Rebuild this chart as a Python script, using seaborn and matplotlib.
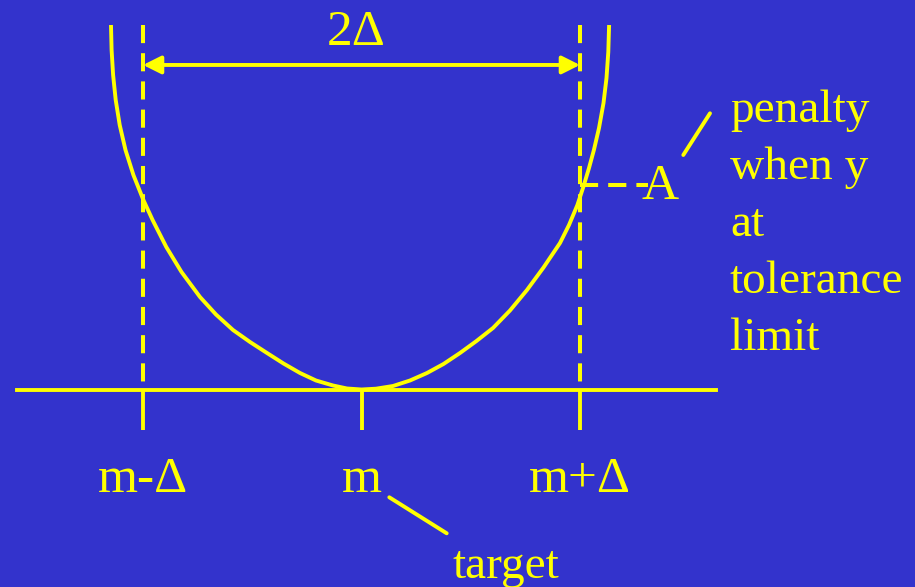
import matplotlib
matplotlib.use("Agg")
import matplotlib.pyplot as plt
import seaborn as sns

# quadratic loss around the target m, x in units of delta, y in units of A
dev = [-1.1465, -1.1437, -1.1368, -1.1249, -1.1066, -1.0801, -1.0439, -0.9982,
       -0.9561, -0.8934, -0.8238, -0.7391, -0.6659, -0.5881, -0.5103, -0.4325,
       -0.3570, -0.2815, -0.2082, -0.1304, -0.0664, 0.0,
       0.0664, 0.1442, 0.2220, 0.2998, 0.3753, 0.4508, 0.5263, 0.6018, 0.6796,
       0.7574, 0.8330, 0.9085, 0.9497, 0.9881, 1.0151, 1.0412, 1.0636, 1.0870,
       1.1076, 1.1213, 1.1295, 1.1332]
loss = [1.7824, 1.6601, 1.5379, 1.4156, 1.2934, 1.1711, 1.0489, 0.9267,
        0.8289, 0.6968, 0.5746, 0.4523, 0.3667, 0.2910, 0.2323, 0.1785,
        0.1271, 0.0807, 0.0440, 0.0196, 0.0049, 0.0,
        0.0039, 0.0171, 0.0440, 0.0807, 0.1247, 0.1785, 0.2372, 0.3007, 0.3863,
        0.4866, 0.5966, 0.7164, 0.8044, 0.9022, 0.9902, 1.0831, 1.1711, 1.2787,
        1.4010, 1.5232, 1.6504, 1.7824]

tick_pos = [-1, 0, 1]
tick_labels = ["m-Δ", "m", "m+Δ"]
tolerance = [-1, 1]
penalty_A = 1.0
top_level = 1.782
note_lines = ["penalty", "when y", "at", "tolerance", "limit"]

BG = "#3333CC"
YEL = "#FFFF00"
W, H = 915, 587

sns.set_style("white")
plt.rcParams['font.family'] = ['Liberation Serif', 'DejaVu Serif']

fig = plt.figure(figsize=(W / 100, H / 100), dpi=100, facecolor=BG)
ax = fig.add_axes([0, 0, 1, 1])
ax.set_facecolor(BG)
# scale: m at 361.5 px, delta = 218.5 px, baseline at 389.5 px, A = 204.5 px
ax.set_xlim(-361.5 / 218.5, (W - 361.5) / 218.5)
ax.set_ylim(-(H - 389.5) / 204.5, 389.5 / 204.5)


def fxy(x, y):
    return x / W, 1 - y / H


sns.lineplot(x=dev, y=loss, ax=ax, color=YEL, lw=2.8, sort=False,
             solid_joinstyle="round", solid_capstyle="butt")

# baseline as an axis with ticks at m-delta, m, m+delta
for s in ["left", "right", "top"]:
    ax.spines[s].set_visible(False)
ax.spines["bottom"].set_position(("data", 0))
ax.spines["bottom"].set_bounds(-1.575, 1.622)
ax.spines["bottom"].set_color(YEL)
ax.spines["bottom"].set_linewidth(2.8)
ax.set_yticks([])
ax.set_xticks(tick_pos, tick_labels)
ax.tick_params(axis="x", direction="out", length=29, width=2.8, color=YEL,
               labelcolor=YEL, labelsize=37, pad=19, bottom=True)

# tolerance limits
for t in tolerance:
    ax.plot([t, t], [top_level, 0], color=YEL, lw=2.9, ls=(0, (4.5, 2.5)))
ax.plot([tolerance[1], 1.311], [penalty_A, penalty_A], color=YEL, lw=2.9,
        ls=(0, (4.5, 2.5)))

ax.annotate("", xy=(tolerance[1], 1.587), xytext=(tolerance[0], 1.587),
            arrowprops=dict(arrowstyle="<|-|>", color=YEL, lw=2.8,
                            mutation_scale=27, shrinkA=0, shrinkB=0))

fig.text(*fxy(355.8, 45), "2Δ", color=YEL, fontsize=37, ha="center", va="baseline")
fig.text(*fxy(660.5, 199), "A", color=YEL, fontsize=37, ha="center", va="baseline")
for i, line in enumerate(note_lines):
    fig.text(*fxy(730, 122 + 57 * i), line, color=YEL, fontsize=34,
             ha="left", va="baseline")
fig.text(*fxy(506, 578), "target", color=YEL, fontsize=34, ha="center", va="baseline")

for (x0, y0), (x1, y1) in [((683.3, 155), (710, 113.3)), ((389.3, 497.3), (446.7, 533.3))]:
    a, b = fxy(x0, y0)
    c, d = fxy(x1, y1)
    fig.add_artist(plt.Line2D([a, c], [b, d], color=YEL, lw=2.8,
                              transform=fig.transFigure))

fig.savefig("out.png", dpi=100, facecolor=BG)
